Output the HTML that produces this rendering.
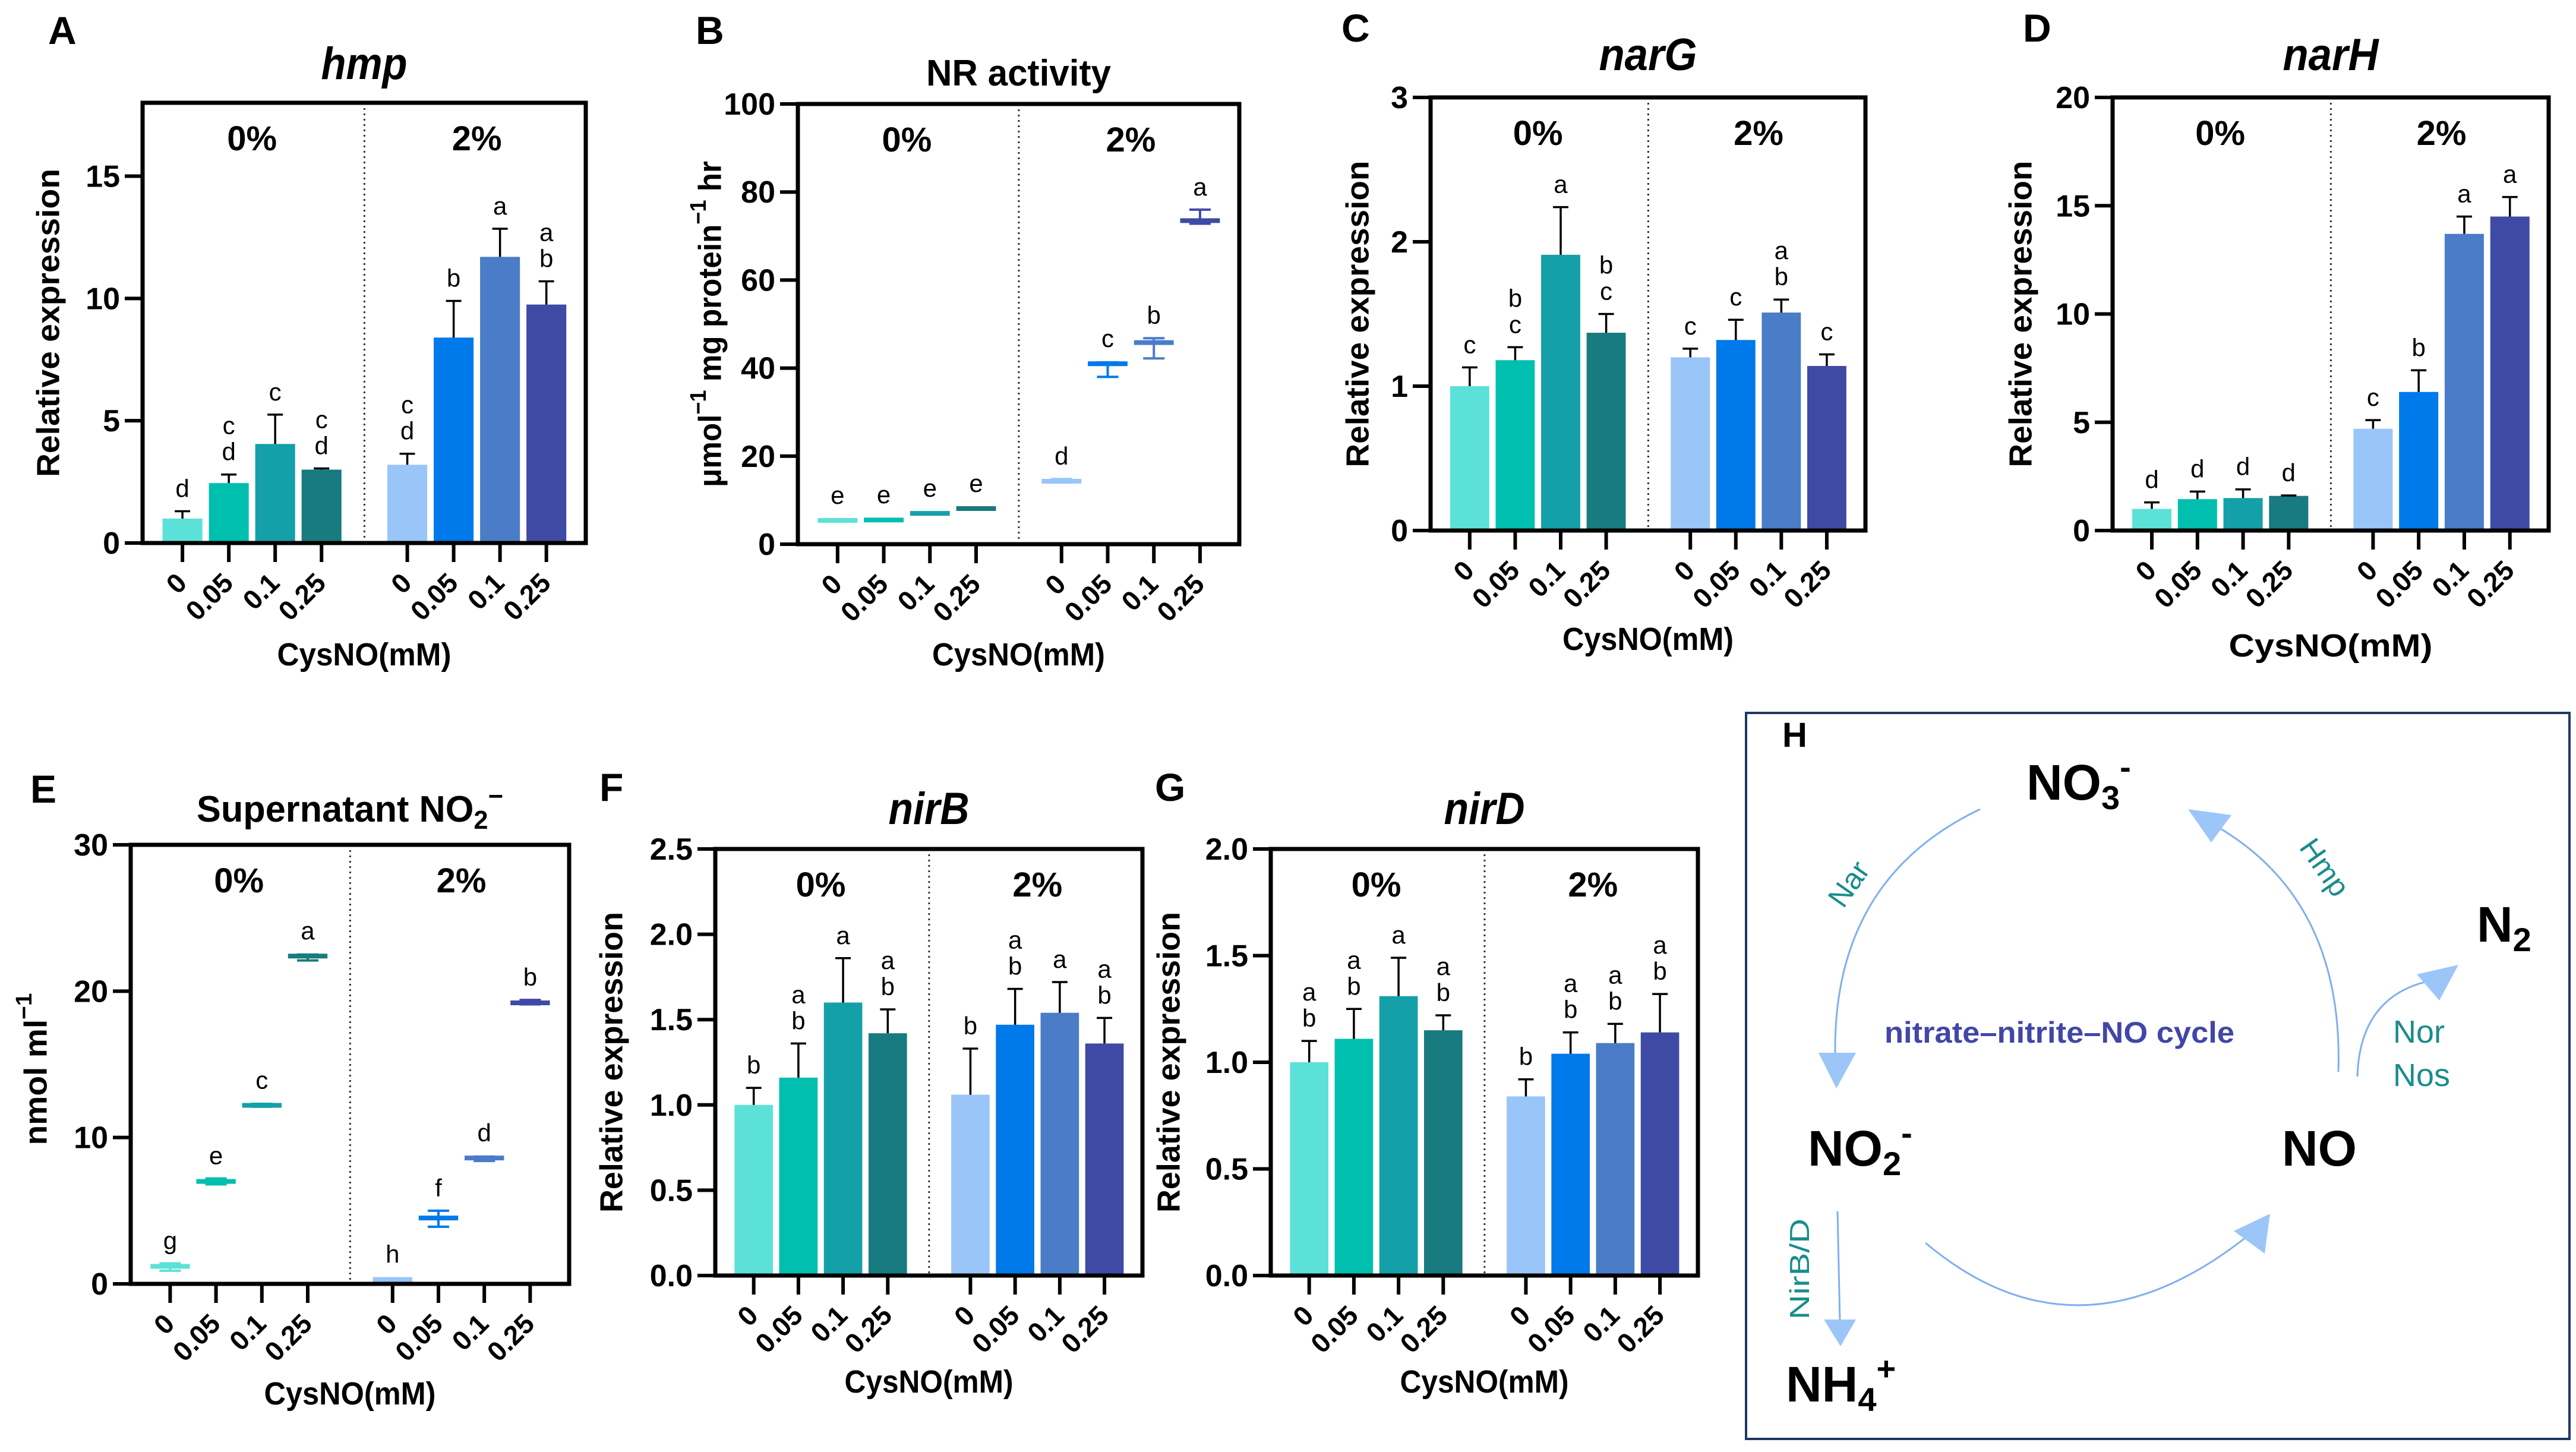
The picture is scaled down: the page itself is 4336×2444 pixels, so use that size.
<!DOCTYPE html>
<html><head><meta charset="utf-8"><style>
html,body{margin:0;padding:0;background:#fff;}
svg{display:block;font-family:"Liberation Sans",Arial,sans-serif;}
</style></head><body>
<svg id="fig" xmlns="http://www.w3.org/2000/svg" width="4336" height="2444" viewBox="0 0 4336 2444">
<rect x="0" y="0" width="4336" height="2444" fill="#fff"/>
<g id="panels"></g>
<g id="panelH">
  <rect x="2939" y="1200" width="1386" height="1222" fill="none" stroke="#1f3864" stroke-width="4"/>
  <text x="3000" y="1257" font-size="58" font-weight="bold">H</text>
  <text x="3411" y="1346" font-size="84" font-weight="bold">NO<tspan font-size="56" dy="16">3</tspan><tspan font-size="56" dy="-52">-</tspan></text>
  <text x="4169" y="1585" font-size="84" font-weight="bold">N<tspan font-size="56" dy="16">2</tspan></text>
  <text x="3043" y="1962" font-size="84" font-weight="bold">NO<tspan font-size="56" dy="16">2</tspan><tspan font-size="56" dy="-52">-</tspan></text>
  <text x="3841" y="1962" font-size="84" font-weight="bold">NO</text>
  <text x="3006" y="2359" font-size="84" font-weight="bold">NH<tspan font-size="56" dy="16">4</tspan><tspan font-size="56" dy="-52">+</tspan></text>
  <text x="3172" y="1755" font-size="50" font-weight="bold" fill="#4146a8" textLength="589" lengthAdjust="spacingAndGlyphs">nitrate–nitrite–NO cycle</text>
  <text x="3112" y="1505" font-size="50" fill="#1a8c8c" text-anchor="middle" transform="rotate(-55 3112 1488)">Nar</text>
  <text x="3913" y="1477" font-size="50" fill="#1a8c8c" text-anchor="middle" transform="rotate(55 3913 1460)">Hmp</text>
  <text x="4028" y="1755" font-size="54" fill="#1a8c8c">Nor</text>
  <text x="4028" y="1828" font-size="54" fill="#1a8c8c">Nos</text>
  <text x="3029" y="2152" font-size="46" fill="#1a8c8c" text-anchor="middle" textLength="170" lengthAdjust="spacingAndGlyphs" transform="rotate(-90 3029 2136)">NirB/D</text>
  <g fill="none" stroke="#7fb0ee" stroke-width="3">
    <path d="M3333 1362 Q3085 1480 3089 1775"/>
    <path d="M3936 1804 Q3945 1520 3738 1395"/>
    <path d="M3241 2092 Q3500 2310 3790 2075"/>
    <path d="M3968 1812 Q3972 1680 4085 1652"/>
    <path d="M3093 2039 L3097 2225"/>
  </g>
  <g fill="#9cc6f8">
    <polygon points="3091,1832 3061,1772 3124,1772"/>
    <polygon points="3683,1362 3722,1418 3756,1372"/>
    <polygon points="3821,2043 3760,2072 3812,2110"/>
    <polygon points="4138,1624 4068,1640 4106,1684"/>
    <polygon points="3098,2266 3070,2221 3124,2221"/>
  </g>
</g>
</svg>
<script>
// ---- data ----
const cats = ["0","0.05","0.1","0.25","0","0.05","0.1","0.25"];
const groups = ["0%","2%"];
const aMeans = [1.0, 2.45, 4.05, 3.0, 3.2, 8.4, 11.7, 9.75];
const aErrHi = [1.3, 2.8, 5.25, 3.05, 3.65, 9.9, 12.85, 10.7];
const aLetters = ["d","c\nd","c","c\nd","c\nd","b","a","a\nb"];
const bMeans = [5.4, 5.5, 7.0, 8.1, 14.3, 41.0, 45.8, 73.5];
const bErrLo = [5.3, 5.4, 6.9, 8.0, 14.0, 38.0, 42.2, 72.8];
const bErrHi = [5.6, 5.6, 7.1, 8.2, 14.8, 41.3, 46.8, 76.0];
const bLetters = ["e","e","e","e","d","c","b","a"];
const cMeans = [1.0, 1.18, 1.91, 1.37, 1.2, 1.32, 1.51, 1.14];
const cErrHi = [1.13, 1.27, 2.24, 1.5, 1.26, 1.46, 1.6, 1.22];
const cLetters = ["c","b\nc","a","b\nc","c","c","a\nb","c"];
const dMeans = [1.0, 1.45, 1.5, 1.6, 4.7, 6.4, 13.7, 14.5];
const dErrHi = [1.3, 1.8, 1.9, 1.62, 5.1, 7.4, 14.5, 15.4];
const dLetters = ["d","d","d","d","c","b","a","a"];
const eMeans = [1.2, 7.0, 12.2, 22.4, 0.3, 4.5, 8.6, 19.2];
const eErrLo = [0.9, 6.8, 12.1, 22.1, 0.25, 3.9, 8.4, 19.1];
const eErrHi = [1.4, 7.2, 12.3, 22.5, 0.35, 5.0, 8.7, 19.4];
const eLetters = ["g","e","c","a","h","f","d","b"];
const fMeans = [1.0, 1.16, 1.6, 1.42, 1.06, 1.47, 1.54, 1.36];
const fErrHi = [1.1, 1.36, 1.86, 1.56, 1.33, 1.68, 1.72, 1.51];
const fLetters = ["b","a\nb","a","a\nb","b","a\nb","a","a\nb"];
const gMeans = [1.0, 1.11, 1.31, 1.15, 0.84, 1.04, 1.09, 1.14];
const gErrHi = [1.1, 1.25, 1.49, 1.22, 0.92, 1.14, 1.18, 1.32];
const gLetters = ["a\nb","a\nb","a","a\nb","b","a\nb","a\nb","a\nb"];
const aTicks = [0,5,10,15];
const bTicks = [0,20,40,60,80,100];
const cTicks = [0,1,2,3];
const dTicks = [0,5,10,15,20];
const eTicks = [0,10,20,30];
const fTicks = [0,0.5,1.0,1.5,2.0,2.5];
const gTicks = [0,0.5,1.0,1.5,2.0];

const colors = ["#5ce1d8","#00bfae","#14a0a8","#177b7f","#99c5f8","#0079ea","#4a7cc8","#3f4aa5"];
const NS = "http://www.w3.org/2000/svg";
function mk(tag, parent, attrs){
  const e = document.createElementNS(NS, tag);
  for (const k in attrs) e.setAttribute(k, attrs[k]);
  parent.appendChild(e);
  return e;
}
const root = document.getElementById("panels");

function panel(p){
  const g = mk("g", root, {});
  
  
  const W = p.right - p.left;
  const s = W / 9.56;
  const xc = i => p.left + s * (0.86 + i + (i >= 4 ? 0.85 : 0));
  const y = v => p.bottom - (v / p.ymax) * (p.bottom - p.top);
  // panel letter
  const pl = mk("text", g, {x:p.lx, y:p.ly, "font-size":66, "font-weight":"bold"});
  
  
  pl.textContent = p.id.toUpperCase();
  // title
  const t = mk("text", g, {x:(p.left+p.right)/2, y:p.ty, "font-size":p.tfs||72, "font-weight":"bold", "text-anchor":"middle", "font-style":p.italic?"italic":"normal", textLength:p.tlen, lengthAdjust:"spacingAndGlyphs"});
  
  
  if (p.titleHTML) t.innerHTML = p.titleHTML; else t.textContent = p.title;
  // divider
  const dx = (xc(3) + xc(4)) / 2;
  const dv = mk("line", g, {x1:dx, x2:dx, y1:p.top, y2:p.bottom, stroke:"#333", "stroke-width":3, "stroke-dasharray":"3 6"});
  
  
  // group labels
  for (let k = 0; k < 2; k++){
    const gx = (xc(k*4) + xc(k*4+3)) / 2;
    const gl = mk("text", g, {x:gx, y:p.top + (p.gly||80), "font-size":58, "font-weight":"bold", "text-anchor":"middle"});
    
    
    gl.textContent = groups[k];
  }
  // marks
  for (let i = 0; i < p.means.length; i++){
    const cx = xc(i);
    let topY;
    if (p.type === "bar"){
      const r = mk("rect", g, {x:cx - s*0.43, y:y(p.means[i]), width:s*0.86, height:p.bottom - y(p.means[i]), fill:colors[i]});
      
      
      const eh = y(p.hi[i]);
      const ev = mk("path", g, {d:`M${cx} ${y(p.means[i])} V${eh} M${cx-13} ${eh} H${cx+13}`, stroke:"#000", "stroke-width":3.5, fill:"none"});
      
      
      topY = eh;
    } else {
      const el = y(p.lo[i]), ehh = y(p.hi[i]);
      const w = mk("path", g, {d:`M${cx} ${el} V${ehh} M${cx-18} ${el} H${cx+18} M${cx-18} ${ehh} H${cx+18}`, stroke:colors[i], "stroke-width":4, fill:"none"});
      
      
      const m = mk("line", g, {x1:cx - s*0.43, x2:cx + s*0.43, y1:y(p.means[i]), y2:y(p.means[i]), stroke:colors[i], "stroke-width":8});
      
      
      topY = Math.min(ehh, y(p.means[i]) - 4);
    }
    const lines = p.letters[i].split("\n");
    for (let j = 0; j < lines.length; j++){
      const lt = mk("text", g, {x:cx, y:topY - 24 - (lines.length - 1 - j) * 44, "font-size":42, "text-anchor":"middle"});
      
      
      lt.textContent = lines[j];
    }
    // x tick
    const tk = mk("line", g, {x1:cx, x2:cx, y1:p.bottom, y2:p.bottom + 32, stroke:"#000", "stroke-width":6});
    
    
    const ax = cx + 10, ay = p.bottom + 70;
    const tl = mk("text", g, {x:ax, y:ay, "font-size":46, "font-weight":"bold", "text-anchor":"end", transform:`rotate(-45 ${ax} ${ay})`});
    
    
    tl.textContent = cats[i];
  }
  // y ticks
  for (const v of p.ticks){
    const ty = y(v);
    const yt = mk("line", g, {x1:p.left - 30, x2:p.left, y1:ty, y2:ty, stroke:"#000", "stroke-width":6});
    
    
    const yl = mk("text", g, {x:p.left - 38, y:ty + 18, "font-size":52, "font-weight":"bold", "text-anchor":"end"});
    
    
    yl.textContent = p.fmt ? v.toFixed(1) : String(v);
  }
  // box
  const bx = mk("rect", g, {x:p.left, y:p.top, width:W, height:p.bottom - p.top, fill:"none", stroke:"#000", "stroke-width":7});
  
  
  // y title
  const yx = p.yx, yy = (p.top + p.bottom) / 2 + (p.ydy || 0);
  const yT = mk("text", g, {x:yx, y:yy, "font-size":54, "font-weight":"bold", "text-anchor":"middle", transform:`rotate(-90 ${yx} ${yy})`, textLength:p.ylen, lengthAdjust:"spacingAndGlyphs", "dominant-baseline":"middle"});
  
  
  if (p.yHTML) yT.innerHTML = p.yHTML; else yT.textContent = p.ytitle;
  // x title
  const xT = mk("text", g, {x:(p.left+p.right)/2, y:p.xty, "font-size":54, "font-weight":"bold", "text-anchor":"middle", textLength:p.xlen, lengthAdjust:"spacingAndGlyphs"});
  
  
  xT.textContent = "CysNO(mM)";
}

panel({id:"a", type:"bar", means:aMeans, hi:aErrHi, letters:aLetters, ticks:aTicks, ymax:18,
  left:240, right:986, top:173, bottom:914, lx:81, ly:74, title:"hmp", italic:true, ty:133, tlen:145, tfs:76,
  ytitle:"Relative expression", yx:85, ylen:519, xty:1120, xlen:293});
panel({id:"b", type:"mean", means:bMeans, lo:bErrLo, hi:bErrHi, letters:bLetters, ticks:bTicks, ymax:100,
  left:1343, right:2086, top:175, bottom:916, lx:1171, ly:74, title:"NR activity", ty:144, tlen:311, tfs:62,
  yHTML:'μmol<tspan baseline-shift="super" font-size="38">−1</tspan> mg protein<tspan baseline-shift="super" font-size="38">−1</tspan> hr', yx:1199, ylen:549, xty:1120, xlen:291});
panel({id:"c", type:"bar", means:cMeans, hi:cErrHi, letters:cLetters, ticks:cTicks, ymax:3,
  left:2408, right:3140, top:164, bottom:893, lx:2258, ly:70, title:"narG", italic:true, ty:118, tlen:165, tfs:76,
  ytitle:"Relative expression", yx:2289, ylen:516, xty:1094, xlen:288});
panel({id:"d", type:"bar", means:dMeans, hi:dErrHi, letters:dLetters, ticks:dTicks, ymax:20,
  left:3556, right:4290, top:164, bottom:893, lx:3405, ly:70, title:"narH", italic:true, ty:118, tlen:161, tfs:76,
  ytitle:"Relative expression", yx:3405, ylen:516, xty:1105, xlen:343});
panel({id:"e", type:"mean", means:eMeans, lo:eErrLo, hi:eErrHi, letters:eLetters, ticks:eTicks, ymax:30,
  left:220, right:958, top:1422, bottom:2161, lx:51, ly:1351, titleHTML:'Supernatant NO<tspan font-size="44" dy="12">2</tspan><tspan font-size="44" dy="-40">−</tspan>', ty:1383, tlen:516, tfs:62,
  yHTML:'nmol ml<tspan baseline-shift="super" font-size="38">−1</tspan>', yx:64, ylen:256, ydy:8, xty:2364, xlen:289});
panel({id:"f", type:"bar", means:fMeans, hi:fErrHi, letters:fLetters, ticks:fTicks, ymax:2.5, fmt:true,
  left:1204, right:1923, top:1429, bottom:2147, lx:1009, ly:1348, title:"nirB", italic:true, ty:1387, tlen:136, tfs:76,
  ytitle:"Relative expression", yx:1033, ylen:506, xty:2344, xlen:284});
panel({id:"g", type:"bar", means:gMeans, hi:gErrHi, letters:gLetters, ticks:gTicks, ymax:2.0, fmt:true,
  left:2139, right:2858, top:1429, bottom:2147, lx:1944, ly:1348, title:"nirD", italic:true, ty:1387, tlen:136, tfs:76,
  ytitle:"Relative expression", yx:1971, ylen:506, xty:2344, xlen:284});
</script>
</body></html>
